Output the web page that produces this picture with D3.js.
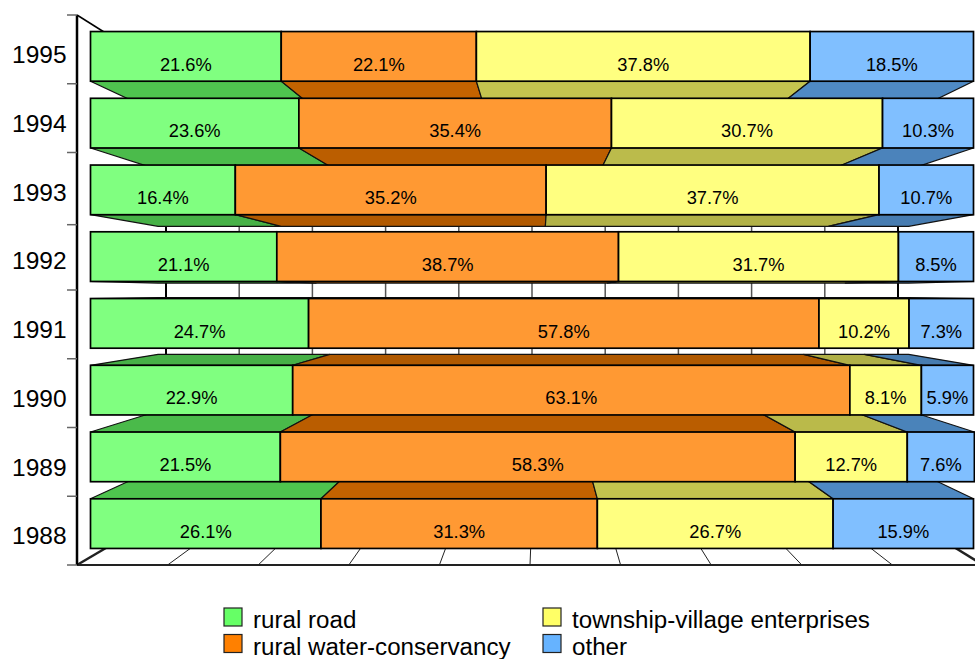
<!DOCTYPE html>
<html><head><meta charset="utf-8">
<script src="https://cdn.jsdelivr.net/npm/d3@7"></script>
<style>html,body{margin:0;padding:0;background:#fff}svg{display:block}text{font-family:"Liberation Sans",Arial,sans-serif;fill:#000}</style>
</head><body><svg id="c" width="975" height="659"></svg>
<script>
const years=["1995","1994","1993","1992","1991","1990","1989","1988"];
const ruralRoad=[21.6,23.6,16.4,21.1,24.7,22.9,21.5,26.1];
const ruralWater=[22.1,35.4,35.2,38.7,57.8,63.1,58.3,31.3];
const township=[37.8,30.7,37.7,31.7,10.2,8.1,12.7,26.7];
const other=[18.5,10.3,10.7,8.5,7.3,5.9,7.6,15.9];
const seriesNames=["rural road","rural water-conservancy","township-village enterprises","other"];
const baseColors=["#66FF66","#FF8000","#FFFF66","#66B3FF"];
const frontColors=["#80FF80","#FF9933","#FFFF80","#80BFFF"];
const gridTicks=d3.range(0,101,10);
const axisStops=[0,1,2,3.05,4,5,6,7,8];
const series=[ruralRoad,ruralWater,township,other];

const svg=d3.select("#c");
const x=d3.scaleLinear().domain([0,100]).range([90.5,973.5]);
const xWall=d3.scaleLinear().domain([0,100]).range([77,983]);
const xBack=d3.scaleLinear().domain([0,100]).range([166,898]);
const y=d3.scaleBand().domain(years).range([23,557]).paddingInner(.256).paddingOuter(.128);
const yAxis=d3.scaleLinear().domain([0,8]).range([15,565]);
const VX=541,VY=292,DEPTH=.85;
const proj=(px,py)=>[VX+(px-VX)*DEPTH,VY+(py-VY)*DEPTH];
const poly=(pts,fill,stroke,w)=>svg.append("polygon").attr("points",pts.map(p=>p.join(",")).join(" ")).attr("fill",fill).attr("stroke",stroke||"none").attr("stroke-width",w||0);
const line=(a,b,c,w)=>svg.append("line").attr("x1",a[0]).attr("y1",a[1]).attr("x2",b[0]).attr("y2",b[1]).attr("stroke",c).attr("stroke-width",w);

// back wall grid
gridTicks.forEach((t,i)=>{const edge=i==0||i==10;line([xBack(t),52],[xBack(t),520],edge?"#000":"#555",edge?2:1.5);});
// floor
gridTicks.forEach((t,i)=>{const fx=xWall(t);line([fx,565],[fx+(VX-fx)*17/273,548],"#222",i==0||i==10?2.5:1);});
line([77,565],[975,565],"#222",2);
// left axis
line([77,15],[77,565],"#000",2.5);
line([77,15],[104,32],"#000",1.5);
axisStops.forEach(i=>line([67,yAxis(i)],[77,yAxis(i)],"#666",1.5));

// bar depth faces, farthest from the vanishing level first
const shade=d=>.65+.00057*d;
const order=years.map((d,i)=>i).sort((a,b)=>Math.abs(y(years[b])+y.bandwidth()/2-VY)-Math.abs(y(years[a])+y.bandwidth()/2-VY));
order.forEach(i=>{
  const top=y(years[i]),bot=top+y.bandwidth();
  const edge=bot<VY?bot:top;
  if(top<VY&&bot>VY)return;
  let acc=0;
  series.forEach((s,k)=>{
    const x0=x(acc),x1=x(acc+s[i]);acc+=s[i];
    const c=d3.rgb(baseColors[k]),m=shade(Math.abs(edge-VY));
    poly([[x0,edge],[x1,edge],proj(x1,edge),proj(x0,edge)],d3.rgb(c.r*m,c.g*m,c.b*m).formatHex(),"#111",1.2);
  });
});
// bar fronts
years.forEach((yr,i)=>{
  const top=y(yr),h=y.bandwidth();
  let acc=0;
  series.forEach((s,k)=>{
    const x0=x(acc),x1=x(acc+s[i]);acc+=s[i];
    svg.append("rect").attr("x",x0).attr("y",top).attr("width",x1-x0).attr("height",h).attr("fill",frontColors[k]).attr("stroke","#000").attr("stroke-width",1.7);
    svg.append("text").attr("x",(x0+x1)/2).attr("y",top+39.2).attr("text-anchor","middle").attr("font-size",18.3).text(s[i].toFixed(1)+"%");
  });
  svg.append("text").attr("x",39.3).attr("y",yAxis(i)+48).attr("text-anchor","middle").attr("font-size",24.5).text(yr);
});
// legend
const lx=[224,543],ly=[608,634.5],lb=[628,654.5];
seriesNames.forEach((n,k)=>{
  const cx=lx[k>>1];
  svg.append("rect").attr("x",cx).attr("y",ly[k%2]).attr("width",18).attr("height",18).attr("fill",baseColors[k]).attr("stroke","#222").attr("stroke-width",1.2);
  svg.append("text").attr("x",cx+29).attr("y",lb[k%2]).attr("font-size",24.15).text(n);
});
</script></body></html>
